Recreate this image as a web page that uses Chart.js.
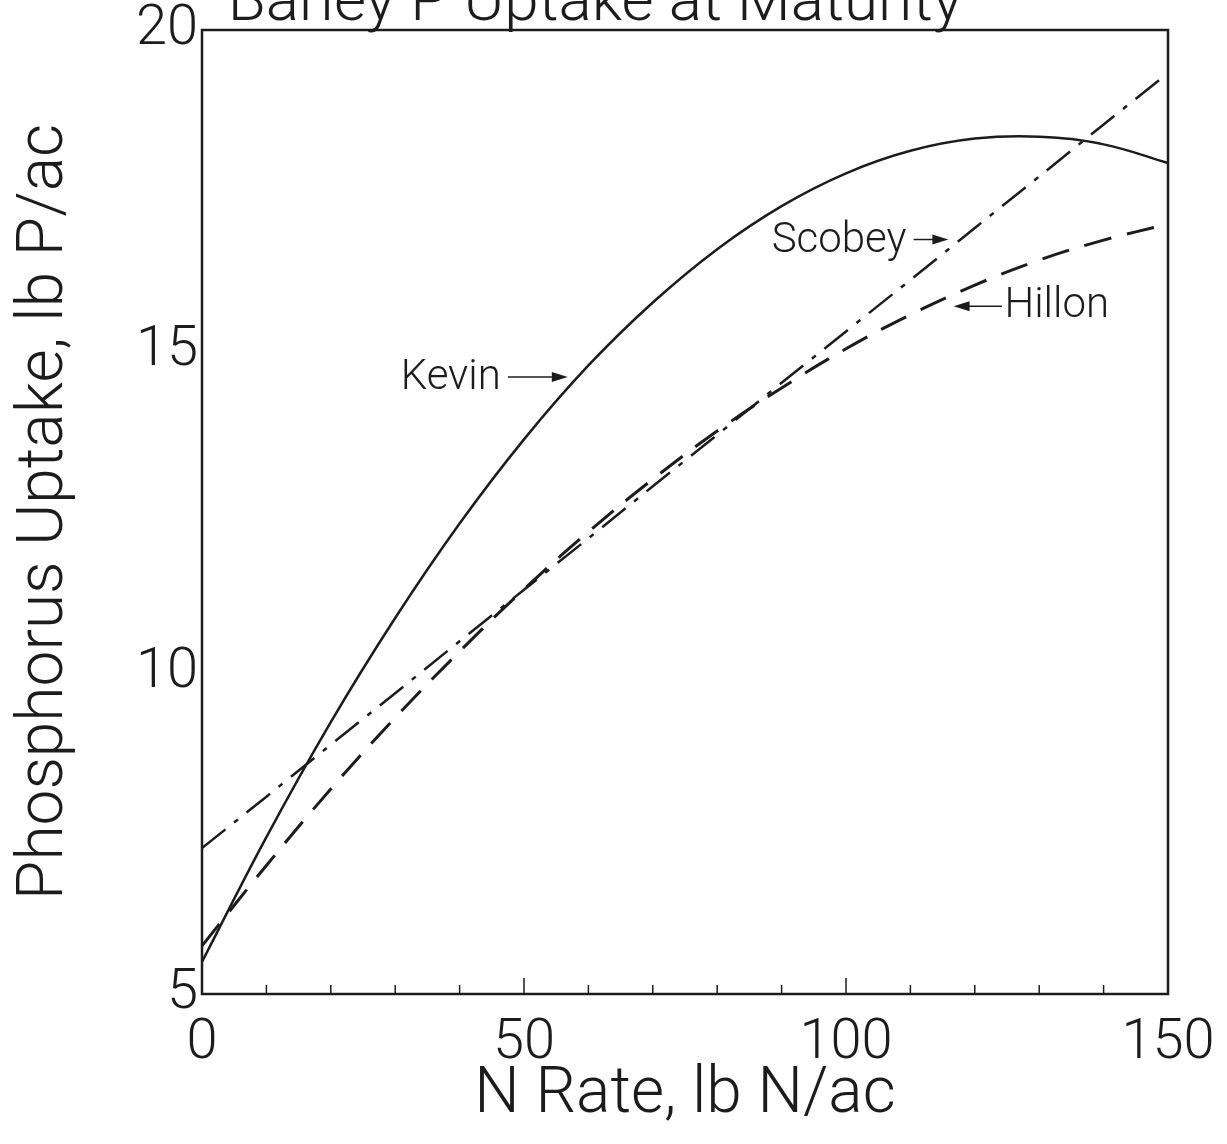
<!DOCTYPE html>
<html>
<head>
<meta charset="utf-8">
<script src="https://cdn.jsdelivr.net/npm/chart.js@4.4.1/dist/chart.umd.min.js"></script>
<style>
  html, body { margin: 0; padding: 0; background: #fff; }
  #wrap { width: 1227px; height: 1144px; }
</style>
</head>
<body>
<div id="wrap"><canvas id="uptakeChart" width="1227" height="1144"></canvas></div>
<script>
// N rate (lb N/ac) and P uptake (lb P/ac)
const nRate  = [0, 10, 20, 30, 40, 50, 60, 70, 80, 90, 100, 110, 120, 130, 140, 150];
const kevin  = [5.50, 7.44, 9.23, 10.85, 12.32, 13.63, 14.78, 15.76, 16.59, 17.26, 17.77, 18.12, 18.31, 18.34, 18.22, 17.93];
const scobey = [7.27, 8.07, 8.88, 9.68, 10.49, 11.29, 12.09, 12.90, 13.70, 14.51, 15.31, 16.11, 16.92, 17.72, 18.53, 19.33];
const hillon = [5.75, 7.00, 8.19, 9.30, 10.33, 11.30, 12.19, 13.01, 13.76, 14.43, 15.04, 15.57, 16.03, 16.42, 16.73, 16.98];
const xTickLabels = [0, 50, 100, 150];
const yTickLabels = [5, 10, 15, 20];

const FONT = 'Roboto, "Liberation Sans", Arial, sans-serif';
const WEIGHT = 300;
const INK = '#1c1c1c';

function points(ys) {
    return nRate.map((x, i) => ({ x: x, y: ys[i] }));
}

// line labels with arrows, placed in data units
const notes = [
    { text: 'Kevin',  side: 'left',  tx: 46.4,  ty: 14.57, from: 47.5,  to: 56.8,  ay: 14.60 },
    { text: 'Scobey', side: 'left',  tx: 109.4, ty: 16.71, from: 110.5, to: 115.9, ay: 16.74 },
    { text: 'Hillon', side: 'right', tx: 124.6, ty: 15.70, from: 124.2, to: 116.7, ay: 15.70 }
];

// box around the plot plus the small inward ticks on the N axis
const framePlugin = {
    id: 'frame',
    afterDraw(chart) {
        const { ctx, chartArea: a, scales: { x } } = chart;
        ctx.save();
        ctx.strokeStyle = INK;
        ctx.lineWidth = 2.5;
        ctx.strokeRect(a.left, a.top, a.right - a.left, a.bottom - a.top);
        ctx.lineWidth = 1.5;
        x.ticks.forEach(t => {
            if (t.value <= x.min || t.value >= x.max) return;
            const px = x.getPixelForValue(t.value);
            const len = t.value % 50 === 0 ? 16 : 9;
            ctx.beginPath();
            ctx.moveTo(px, a.bottom);
            ctx.lineTo(px, a.bottom - len);
            ctx.stroke();
        });
        ctx.restore();
    }
};

const notesPlugin = {
    id: 'notes',
    afterDatasetsDraw(chart) {
        const { ctx, scales: { x, y } } = chart;
        ctx.save();
        ctx.fillStyle = INK;
        ctx.strokeStyle = INK;
        ctx.font = WEIGHT + ' 42px ' + FONT;
        ctx.textBaseline = 'middle';
        notes.forEach(n => {
            ctx.textAlign = n.side === 'left' ? 'right' : 'left';
            ctx.fillText(n.text, x.getPixelForValue(n.tx), y.getPixelForValue(n.ty));
            const x0 = x.getPixelForValue(n.from);
            const x1 = x.getPixelForValue(n.to);
            const py = y.getPixelForValue(n.ay);
            const dir = Math.sign(x1 - x0);
            ctx.lineWidth = 1.5;
            ctx.beginPath();
            ctx.moveTo(x0, py);
            ctx.lineTo(x1 - dir * 12, py);
            ctx.stroke();
            ctx.beginPath();
            ctx.moveTo(x1, py);
            ctx.lineTo(x1 - dir * 16, py - 5);
            ctx.lineTo(x1 - dir * 16, py + 5);
            ctx.closePath();
            ctx.fill();
        });
        ctx.restore();
    }
};

// the figure title sits mostly above the picture edge
const titlePlugin = {
    id: 'cutTitle',
    afterDraw(chart) {
        const ctx = chart.ctx;
        ctx.save();
        ctx.fillStyle = INK;
        ctx.font = WEIGHT + ' 62px ' + FONT;
        ctx.textAlign = 'center';
        ctx.textBaseline = 'alphabetic';
        ctx.fillText('Barley P Uptake at Maturity', 595, 20);
        ctx.restore();
    }
};

const ctx = document.getElementById('uptakeChart').getContext('2d');
new Chart(ctx, {
    type: 'line',
    data: {
        datasets: [
            {
                label: 'Kevin',
                data: points(kevin),
                borderColor: INK,
                borderWidth: 2.5,
                tension: 0.4
            },
            {
                label: 'Scobey',
                data: points(scobey),
                borderColor: INK,
                borderWidth: 2.5,
                borderDash: [30, 11, 5, 11]
            },
            {
                label: 'Hillon',
                data: points(hillon),
                borderColor: INK,
                borderWidth: 3,
                borderDash: [28, 16],
                tension: 0.4
            }
        ]
    },
    options: {
        responsive: false,
        animation: false,
        layout: { padding: { top: 30, right: 59, left: 0, bottom: 0 } },
        elements: { point: { radius: 0 }, line: { fill: false } },
        plugins: {
            legend: { display: false },
            tooltip: { enabled: false }
        },
        scales: {
            x: {
                type: 'linear',
                min: 0,
                max: 150,
                afterFit(scale) {
                    scale.height = 150;
                    scale.paddingLeft = 0;
                    scale.paddingRight = 0;
                },
                grid: { display: false, drawTicks: false },
                border: { display: false },
                ticks: {
                    stepSize: 10,
                    autoSkip: false,
                    maxRotation: 0,
                    padding: 22,
                    color: INK,
                    font: { family: FONT, size: 56, weight: WEIGHT, lineHeight: 1 },
                    callback: v => xTickLabels.includes(v) ? String(v) : ''
                },
                title: {
                    display: true,
                    text: 'N Rate, lb N/ac',
                    color: INK,
                    font: { family: FONT, size: 64, weight: WEIGHT },
                    padding: { top: 0, bottom: 10 }
                }
            },
            y: {
                type: 'linear',
                min: 5,
                max: 20,
                afterFit(scale) {
                    scale.width = 202;
                    scale.paddingTop = 0;
                    scale.paddingBottom = 0;
                },
                grid: { display: false, drawTicks: false },
                border: { display: false },
                ticks: {
                    stepSize: 5,
                    padding: 4,
                    color: INK,
                    font: { family: FONT, size: 56, weight: WEIGHT, lineHeight: 0.8 },
                    callback: v => yTickLabels.includes(v) ? String(v) : ''
                },
                title: {
                    display: true,
                    text: 'Phosphorus Uptake, lb P/ac',
                    color: INK,
                    font: { family: FONT, size: 64, weight: WEIGHT },
                    padding: { top: 8, bottom: 0 }
                }
            }
        }
    },
    plugins: [framePlugin, notesPlugin, titlePlugin]
});
</script>
</body>
</html>
